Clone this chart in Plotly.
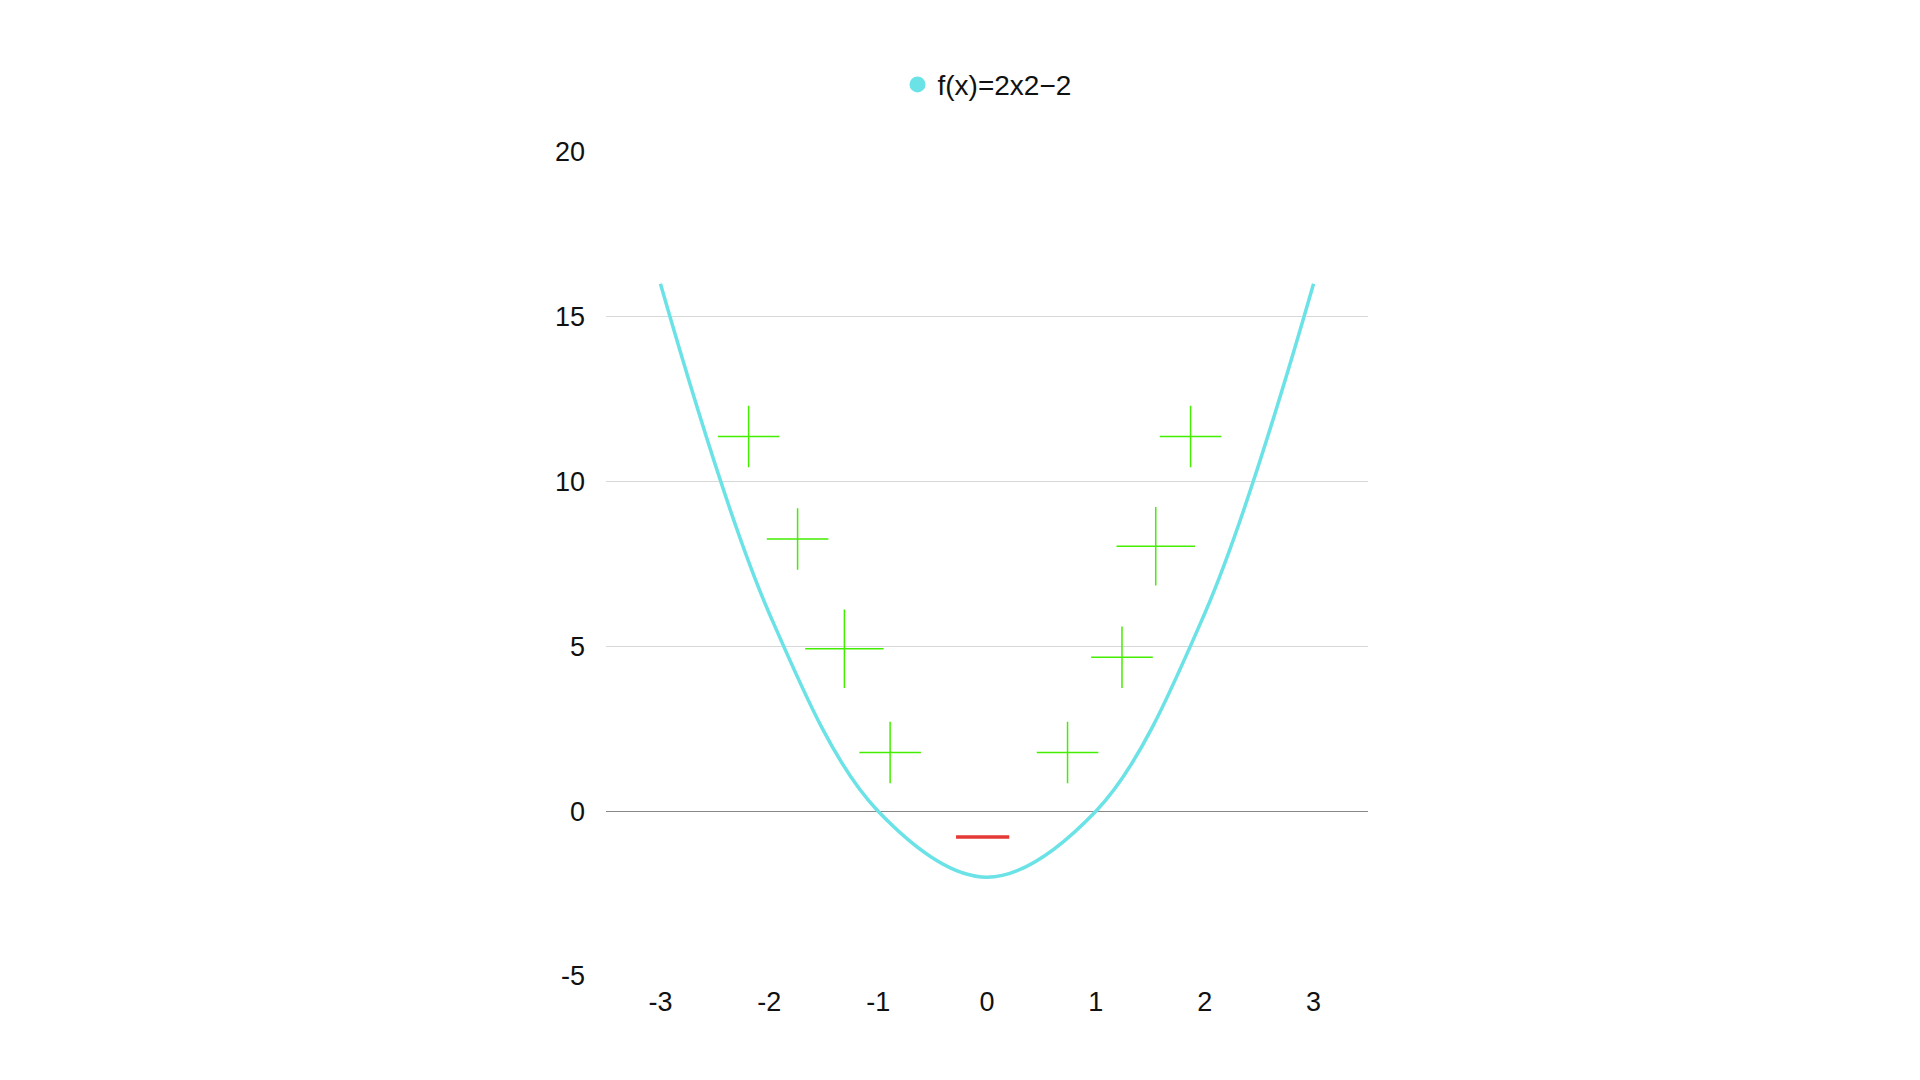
import plotly.graph_objects as go

curve_x = [-3, -2, -1, 0, 1, 2, 3]
curve_y = [16, 6, 0, -2, 0, 6, 16]
x_ticktext = ["-3", "-2", "-1", "0", "1", "2", "3"]
y_tickvals = [-5, 0, 5, 10, 15, 20]
y_ticktext = ["-5", "0", "5", "10", "15", "20"]
small_px = [-2.19, -1.74, -0.89, 0.74, 1.24, 1.87]
small_py = [11.37, 8.26, 1.78, 1.78, 4.67, 11.37]
big_px = [-1.31, 1.55]
big_py = [4.93, 8.04]
neg_x = [-0.04]
neg_y = [-0.78]
legend_name = "f(x)=2x2−2"
cyan = "#6ae2e6"
green = "#44ee00"

fig = go.Figure()
fig.add_trace(go.Scatter(x=curve_x, y=curve_y, mode="lines", line=dict(color=cyan, width=3.5, shape="spline"), showlegend=False))
fig.add_trace(go.Scatter(x=small_px, y=small_py, mode="markers", showlegend=False,
    marker=dict(symbol="cross-thin", size=44, line=dict(color=green, width=1.5))))
fig.add_trace(go.Scatter(x=big_px, y=big_py, mode="markers", showlegend=False,
    marker=dict(symbol="cross-thin", size=56, line=dict(color=green, width=1.5))))
fig.add_trace(go.Scatter(x=neg_x, y=neg_y, mode="markers", showlegend=False,
    marker=dict(symbol="line-ew", size=38, line=dict(color="#e53935", width=3.5))))
fig.add_trace(go.Scatter(x=[None], y=[None], mode="markers", name=legend_name,
    marker=dict(symbol="circle", size=30, color=cyan)))

fig.update_layout(
    width=1920, height=1080, plot_bgcolor="white", paper_bgcolor="white",
    margin=dict(l=598, r=560, t=143, b=111),
    font=dict(family="Liberation Sans, Arial", size=27, color="#111"),
    legend=dict(orientation="h", x=0.5, xanchor="center", y=1.05, yanchor="bottom", font=dict(size=28), itemsizing="trace"),
    xaxis=dict(range=[-3.5, 3.5], tickvals=curve_x, ticktext=x_ticktext, showgrid=False, zeroline=False, showline=False, ticks=""),
    yaxis=dict(range=[-5.03, 20.03], tickvals=y_tickvals, ticktext=y_ticktext, gridcolor="#d8d8d8", gridwidth=1.3,
               zeroline=True, zerolinecolor="#888888", zerolinewidth=1.2, ticks=""),
)
fig.update_yaxes(ticklabelstandoff=20)
fig.update_xaxes(ticklabelstandoff=6)
fig.write_html("out.html")
